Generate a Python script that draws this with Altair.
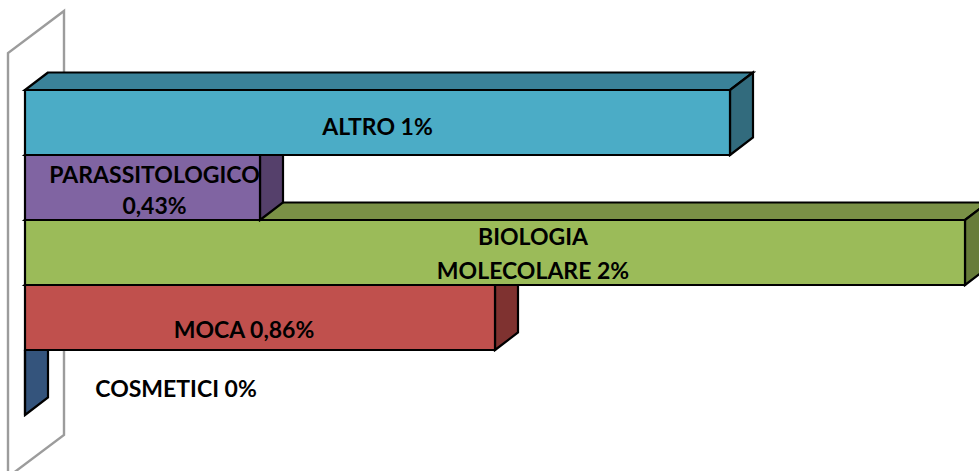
import altair as alt
import numpy as np
import pandas as pd

# Stacked pseudo-3D bars, listed bottom to top
names = ["COSMETICI 0%", "MOCA 0,86%", "BIOLOGIA\nMOLECOLARE 2%", "PARASSITOLOGICO\n0,43%", "ALTRO 1%"]
values = [0, 0.86, 2, 0.43, 1]
front_colors = ["#4F81BD", "#C0504D", "#9BBB59", "#8064A2", "#4BACC6"]
top_colors = ["#3F6797", "#9A403E", "#7A9146", "#664F82", "#3A8299"]
side_colors = ["#34547C", "#7F3230", "#677C3A", "#55406B", "#326B7D"]

# Bars are not proportional to their percentages: the axis is piecewise,
# with each stated percentage occupying the next equal step.
scale_knots = [0, 0.43, 0.86, 1, 2]
scale_steps = [0, 1, 2, 3, 4]

W, H = 979, 471
STEP_PX = 235.0
ROW_PX = 65.0
X0_PX = 25.0
Y0_PX = 415.0
DEPTH_X = 23.0 / STEP_PX
DEPTH_Y = 17.5 / ROW_PX

x_scale = alt.Scale(domain=[-X0_PX / STEP_PX, (W - X0_PX) / STEP_PX], nice=False, zero=False)
y_scale = alt.Scale(domain=[(Y0_PX - H) / ROW_PX, Y0_PX / ROW_PX], nice=False, zero=False)


def xe(field="x"):
    return alt.X(f"{field}:Q", scale=x_scale, axis=None, stack=None)


def ye(field="y"):
    return alt.Y(f"{field}:Q", scale=y_scale, axis=None, stack=None)


x2e = alt.X2("x2:Q")
y2e = alt.Y2("y2:Q")
EDGE = dict(stroke="#000000", strokeWidth=2.2, strokeJoin="miter")

# Side wall behind the bars, in the same step/row units
wall_x = np.array([8, 8, 64, 64, 8]) - X0_PX
wall_y = Y0_PX - np.array([480, 53, 11, 435, 477])
wall = pd.DataFrame({"x": wall_x / STEP_PX, "y": wall_y / ROW_PX, "i": range(5)})
layers = [
    alt.Chart(wall).mark_line(stroke="#9C9C9C", strokeWidth=2.4, clip=False).encode(
        x=xe(), y=ye(), order="i:O"
    )
]

# Lower bars are painted first so each upper bar covers their tops
for row, value in enumerate(values):
    end = float(np.interp(value, scale_knots, scale_steps))
    low, high = float(row), float(row + 1)

    top = pd.DataFrame({
        "x": [0, DEPTH_X], "x2": [end, end + DEPTH_X], "y": [high, high + DEPTH_Y],
    })
    layers.append(
        alt.Chart(top).mark_area(orient="horizontal", color=top_colors[row], **EDGE).encode(
            x=xe(), x2=x2e, y=ye()
        )
    )

    side = pd.DataFrame({
        "x": [end, end + DEPTH_X], "y": [low, low + DEPTH_Y], "y2": [high, high + DEPTH_Y],
    })
    layers.append(
        alt.Chart(side).mark_area(orient="vertical", color=side_colors[row], **EDGE).encode(
            x=xe(), y=ye(), y2=y2e
        )
    )

    front = pd.DataFrame({"x": [0], "x2": [end], "y": [low], "y2": [high]})
    layers.append(
        alt.Chart(front).mark_rect(color=front_colors[row], **EDGE).encode(
            x=xe(), x2=x2e, y=ye(), y2=y2e
        )
    )

# Label nudges away from each bar's centre, in pixels
label_dx = [151, -16, 38, 12, 0]
label_dy = [7, 13, -15, -12, 5]
line_heights = [24, 24, 34, 31, 24]

for row, (name, value) in enumerate(zip(names, values)):
    end = float(np.interp(value, scale_knots, scale_steps))
    label = pd.DataFrame({"x": [end / 2], "y": [row + 0.5], "t": [name]})
    layers.append(
        alt.Chart(label).mark_text(
            font="Lato", fontWeight="bold", fontSize=23, color="#000000",
            align="center", baseline="middle", lineBreak="\n",
            lineHeight=line_heights[row], dx=label_dx[row], dy=label_dy[row],
        ).encode(x=xe(), y=ye(), text="t:N")
    )

chart = (
    alt.layer(*layers)
    .properties(width=W, height=H, padding=0, autosize=alt.AutoSizeParams(type="none"), background="#FFFFFF")
    .configure_view(stroke=None)
)

chart.save("out.html", embed_options={"renderer": "svg", "actions": False})
